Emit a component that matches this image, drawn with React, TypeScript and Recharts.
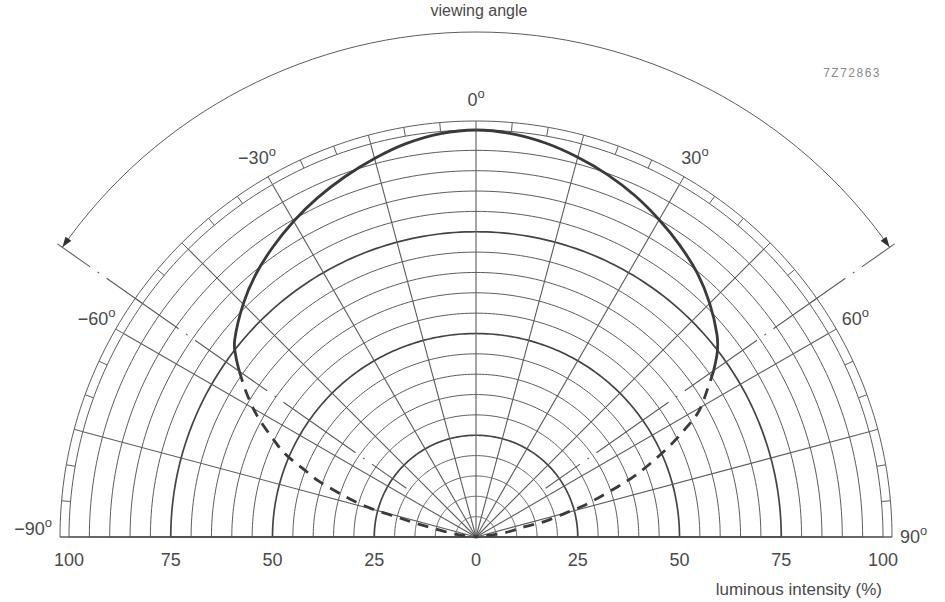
import React from 'react';
import { RadarChart, Radar, PolarGrid, PolarAngleAxis, PolarRadiusAxis, Customized } from 'recharts';

// ---- data (viewing angle in degrees, relative luminous intensity in %) ----
const ANGLE_DEG = [
  -90, -82, -78.6, -77.2, -75.8, -75, -73.7, -72, -70.4, -68.3,
  -66.5, -64, -61, -58, -55, -53, -50.7, -45, -40, -35,
  -30, -25, -20, -15, -10, -5, 0, 5, 10, 15,
  20, 25, 30, 35, 40, 45, 50, 52.6, 55, 57.3,
  60.6, 62.7, 64.8, 66.9, 68.8, 70.3, 71.9, 73.8, 75.1, 77.2,
  78.1, 81.5, 90,
];
const INTENSITY = [
  0, 5.2, 10.3, 15.4, 20.1, 25.7, 31, 36, 41.1, 46.1,
  51.1, 55.8, 61.5, 66.4, 71, 73.9, 76.6, 80.9, 84.2, 87,
  89.6, 92, 94.2, 96.3, 98.2, 99.5, 100, 99.5, 98.3, 96.6,
  94.7, 92.5, 90, 87.4, 84.6, 81.2, 77.3, 74.6, 71.3, 67.7,
  62.8, 57.8, 52.6, 47.1, 42.1, 37.4, 32.5, 27.5, 22.6, 17.4,
  12.3, 7, 0,
];
const SOLID_LIMIT = 55; // beyond ±55° the curve is drawn dashed
const VIEW_ANGLE = 55; // half viewing angle marker

const ANGLE_LABELS = [-90, -60, -30, 0, 30, 60, 90];
const RADIUS_LABELS = [0, 25, 50, 75, 100];
const THIN_CIRCLES = [5, 10, 15, 20, 30, 35, 40, 45, 55, 60, 65, 70, 80, 85, 90, 95, 100];
const THICK_CIRCLES = [25, 50, 75];
const SPOKE_ANGLES = [-90, -75, -60, -45, -30, -15, 0, 15, 30, 45, 60, 75, 90];
const RING_TICKS = Array.from({ length: 37 }, (_, i) => -90 + 5 * i);
const ARC_STEPS = Array.from({ length: 181 }, (_, i) => i);

// ---- layout ----
const W = 945;
const H = 602;
const CX = 476;
const CY = 537;
const R = 407;
const RING = 416;
const ARC_R = 505;
const LINE_IN = 85;
const LINE_OUT = 511;

const FONT = '"Liberation Sans", Arial, sans-serif';
const TEXT = '#4a4a4a';
const GRID = '#5c5c5c';
const CURVE = '#3a3a3a';

const chartAngle = (a: number) => 90 - a;
const pxR = (p: number) => (R * p) / 100;
const pol = (a: number, r: number): [number, number] => [
  CX + r * Math.sin((a * Math.PI) / 180),
  CY - r * Math.cos((a * Math.PI) / 180),
];

const data = ANGLE_DEG.map((angle, i) => ({ angle, intensity: INTENSITY[i] }));

// smooth path (Catmull-Rom) through the points computed by the chart scales
const smoothD = (arr: any[]) => {
  if (!arr.length) return '';
  let d = `M${arr[0].x},${arr[0].y}`;
  for (let i = 0; i < arr.length - 1; i++) {
    const p0 = arr[i > 0 ? i - 1 : i];
    const p1 = arr[i];
    const p2 = arr[i + 1];
    const p3 = arr[i + 2 < arr.length ? i + 2 : i + 1];
    const c1x = p1.x + (p2.x - p0.x) / 6;
    const c1y = p1.y + (p2.y - p0.y) / 6;
    const c2x = p2.x - (p3.x - p1.x) / 6;
    const c2y = p2.y - (p3.y - p1.y) / 6;
    d += ` C${c1x},${c1y} ${c2x},${c2y} ${p2.x},${p2.y}`;
  }
  return d;
};

const CurveShape = (props: any) => {
  const pts = (props.points || []).filter(
    (p: any) => Number.isFinite(p.x) && Number.isFinite(p.y) && p.payload
  );
  const solid = pts.filter((p: any) => Math.abs(p.payload.angle) <= SOLID_LIMIT);
  const left = pts.filter((p: any) => p.payload.angle <= -SOLID_LIMIT).reverse();
  const right = pts.filter((p: any) => p.payload.angle >= SOLID_LIMIT);
  const common = { fill: 'none', stroke: CURVE, strokeWidth: 2.8, strokeLinejoin: 'round' as const };
  return (
    <g>
      <path d={smoothD(solid)} {...common} />
      <path d={smoothD(left)} {...common} strokeDasharray="11 8" />
      <path d={smoothD(right)} {...common} strokeDasharray="11 8" />
    </g>
  );
};

const degLabel = (v: number) => (v < 0 ? `\u2212${-v}` : `${v}`);

const AngleTick = (props: any) => {
  const v = props?.payload?.value;
  if (!ANGLE_LABELS.includes(v)) return <g />;
  let x: number;
  let y: number;
  let anchor: 'start' | 'middle' | 'end' = 'middle';
  if (v === -90) {
    x = CX - 424;
    y = CY - 2;
    anchor = 'end';
  } else if (v === 90) {
    x = CX + 424;
    y = CY + 6;
    anchor = 'start';
  } else {
    const [px, py] = pol(v, 438);
    x = px;
    y = py + 6.5;
  }
  return (
    <text x={x} y={y} textAnchor={anchor} fontSize={18} fill={TEXT} fontFamily={FONT}>
      {degLabel(v)}
      <tspan dy={-8} fontSize={13}>o</tspan>
    </text>
  );
};

const RadiusTick = (props: any) => {
  const v = props?.payload?.value;
  const x = props.x;
  const y = CY + 29;
  const t = { fontSize: 18, fill: TEXT, fontFamily: FONT, textAnchor: 'middle' as const };
  return (
    <g>
      <text x={x} y={y} {...t}>{v}</text>
      {v !== 0 && (
        <text x={2 * CX - x} y={y} {...t}>{v}</text>
      )}
    </g>
  );
};

const Annotations = () => {
  const [lx, ly] = pol(-VIEW_ANGLE, ARC_R);
  const [rx, ry] = pol(VIEW_ANGLE, ARC_R);
  const lines = [-VIEW_ANGLE, VIEW_ANGLE].map((a) => {
    const [ox, oy] = pol(a, LINE_OUT);
    const [ix, iy] = pol(a, LINE_IN);
    return (
      <line
        key={a}
        x1={ox}
        y1={oy}
        x2={ix}
        y2={iy}
        stroke={GRID}
        strokeWidth={1.1}
        strokeDasharray="88 9 2 9"
        strokeDashoffset={48}
      />
    );
  });
  return (
    <g>
      <defs>
        <marker
          id="va-arrow"
          viewBox="0 0 12 8"
          refX={12}
          refY={4}
          markerWidth={12}
          markerHeight={7}
          markerUnits="userSpaceOnUse"
          orient="auto-start-reverse"
        >
          <path d="M0,0 L12,4 L0,8 z" fill="#333" />
        </marker>
      </defs>
      <path
        d={`M${lx},${ly} A${ARC_R},${ARC_R} 0 0 1 ${rx},${ry}`}
        fill="none"
        stroke={GRID}
        strokeWidth={1}
        markerStart="url(#va-arrow)"
        markerEnd="url(#va-arrow)"
      />
      {lines}
      <text x={479} y={16} textAnchor="middle" fontSize={16} fill={TEXT} fontFamily={FONT}>
        viewing angle
      </text>
      <text x={882} y={595} textAnchor="end" fontSize={17} fill={TEXT} fontFamily={FONT}>
        luminous intensity (%)
      </text>
      <text x={881} y={77} textAnchor="end" fontSize={12} fill="#8a8a8a" fontFamily={FONT} letterSpacing={1.5}>
        7Z72863
      </text>
    </g>
  );
};

export default function App() {
  return (
    <div style={{ position: 'absolute', left: 0, top: 0, width: W, height: H, background: '#fff' }}>
      <RadarChart
        width={W}
        height={H}
        data={data}
        cx={CX}
        cy={CY}
        innerRadius={0}
        outerRadius={R}
        startAngle={180}
        endAngle={0}
        margin={{ top: 0, right: 0, bottom: 0, left: 0 }}
      >
        <PolarGrid
          gridType="polygon"
          radialLines={false}
          polarAngles={ARC_STEPS}
          polarRadius={[...THIN_CIRCLES.map(pxR), RING]}
          stroke={GRID}
          strokeWidth={1}
        />
        <PolarGrid
          gridType="polygon"
          radialLines={false}
          polarAngles={ARC_STEPS}
          polarRadius={THICK_CIRCLES.map(pxR)}
          stroke="#444"
          strokeWidth={1.7}
        />
        <PolarGrid
          gridType="polygon"
          radialLines={true}
          polarAngles={SPOKE_ANGLES.map(chartAngle)}
          polarRadius={[]}
          stroke={GRID}
          strokeWidth={1.1}
        />
        <PolarAngleAxis
          dataKey="angle"
          type="number"
          domain={[-90, 90]}
          ticks={RING_TICKS}
          tickSize={RING - R}
          axisLine={false}
          tickLine={{ stroke: GRID, strokeWidth: 1 }}
          tick={<AngleTick />}
        />
        <PolarRadiusAxis
          angle={0}
          type="number"
          domain={[0, 100]}
          ticks={RADIUS_LABELS}
          axisLine={false}
          tickLine={false}
          tick={<RadiusTick />}
        />
        <Customized component={Annotations} />
        <Radar
          dataKey="intensity"
          isAnimationActive={false}
          dot={false}
          fill="none"
          stroke={CURVE}
          shape={(p: any) => <CurveShape {...p} />}
        />
      </RadarChart>
    </div>
  );
}
